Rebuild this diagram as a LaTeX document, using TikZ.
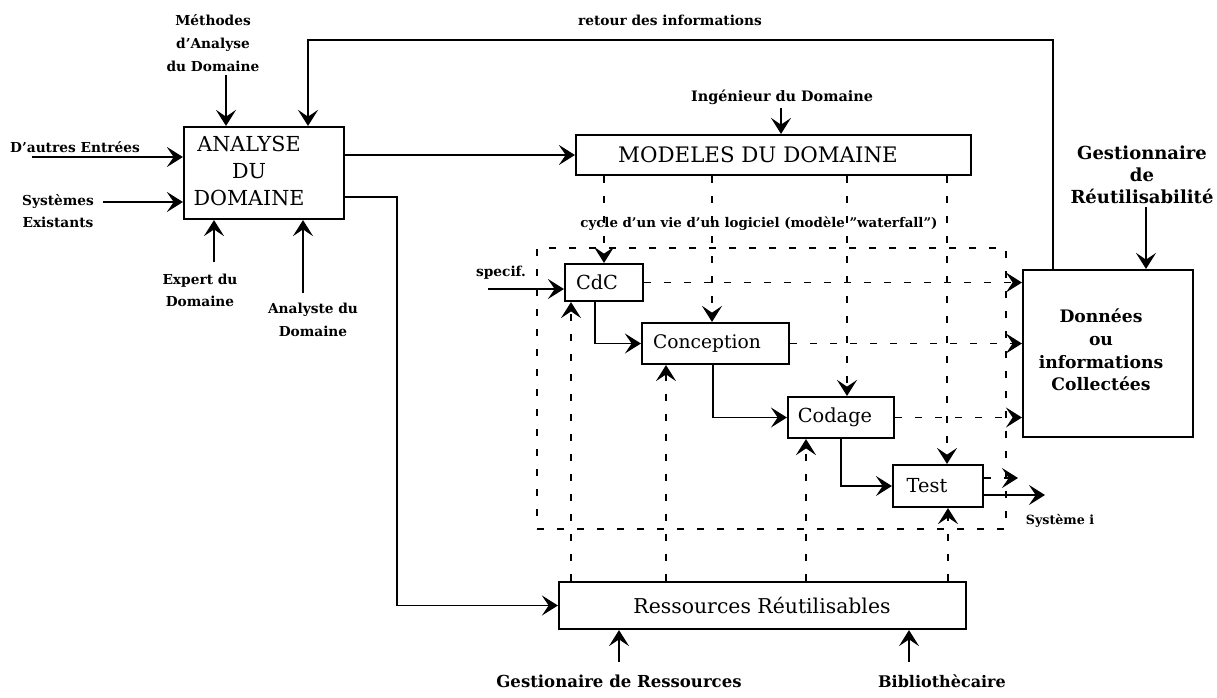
\documentclass[tikz,border=0pt]{standalone}
\usepackage{fontspec}
\setmainfont{DejaVu Serif}
\usetikzlibrary{arrows.meta}
\begin{document}
\begin{tikzpicture}[x=0.75pt,y=-0.75pt,
  box/.style={draw,line width=1.6pt,inner sep=0pt},
  btxt/.style={font=\fontsize{14.5}{20}\selectfont,inner sep=0pt},
  lab/.style={font=\bfseries\fontsize{10.3}{17}\selectfont,align=center,inner sep=0pt},
  arr/.style={line width=1.3pt,-{Stealth[length=12pt,width=15pt,inset=5pt]}},
  darr/.style={arr,line width=1.4pt,dash pattern=on 5pt off 10pt},
  dline/.style={line width=1.4pt,dash pattern=on 5pt off 10pt},
]
\useasboundingbox (0,0) rectangle (1217,697);
% boxes
\node[box,minimum width=120pt,minimum height=69pt] (ana) at (264,173) {};
\node[btxt,align=center,font=\fontsize{15.5}{20.6}\selectfont] (anat) at (249,171) {ANALYSE\\DU\\DOMAINE};
\node[box,minimum width=296.25pt,minimum height=30pt] (mod) at (773.5,155) {};
\node[btxt,font=\fontsize{16}{20}\selectfont] (modt) at (758,155) {MODELES DU DOMAINE};
\node[draw,dline,minimum width=351.75pt,minimum height=210.75pt,inner sep=0pt] (cyc) at (771.5,388.5) {};
\node[box,minimum width=58.5pt,minimum height=27.75pt] (cdc) at (604,282.5) {};
\node[btxt] (cdct) at (597,282.5) {CdC};
\node[box,minimum width=110.25pt,minimum height=30.75pt] (conc) at (715.5,343.5) {};
\node[btxt,font=\fontsize{14}{20}\selectfont] (conct) at (707,343.5) {Conception};
\node[box,minimum width=79.5pt,minimum height=30.75pt] (cod) at (841,417.5) {};
\node[btxt] (codt) at (835,417.5) {Codage};
\node[box,minimum width=67.5pt,minimum height=31.5pt] (test) at (938,486) {};
\node[btxt] (testt) at (927,486) {Test};
\node[box,minimum width=127.5pt,minimum height=125.25pt] (don) at (1108,353.5) {};
\node[lab,font=\bfseries\fontsize{12.9}{17}\selectfont] (dont) at (1101,350) {Données\\ou\\informations\\Collectées};
\node[box,minimum width=305.25pt,minimum height=35.25pt] (res) at (762.5,605.5) {};
\node[btxt,font=\fontsize{15.3}{20}\selectfont] (rest) at (762,605.5) {Ressources Réutilisables};
% labels
\node[lab] (meth) at (213,43) {Méthodes\\d'Analyse\\du Domaine};
\node[lab] (autres) at (75,147) {D'autres Entrées};
\node[lab] (sys) at (58,211) {Systèmes\\Existants};
\node[lab] (exp) at (200,290.5) {Expert du\\Domaine};
\node[lab] (anal) at (313,320) {Analyste du\\Domaine};
\node[lab] (ret) at (670,20) {retour des informations};
\node[lab,font=\bfseries\fontsize{10.8}{17}\selectfont] (ing) at (782,97) {Ingénieur du Domaine};
\node[lab,font=\bfseries\fontsize{13.5}{16.5}\selectfont] (gest) at (1142,175) {Gestionnaire\\de\\Réutilisabilité};
\node[lab,font=\bfseries\fontsize{10}{17}\selectfont] (cyct) at (759,224) {cycle d'un vie d'un logiciel (modèle \symbol{34}waterfall\symbol{34})};
\node[lab] (spec) at (501,273) {specif.};
\node[lab,font=\bfseries\fontsize{9.5}{17}\selectfont] (sysi) at (1060,521) {Système i};
\node[lab,font=\bfseries\fontsize{12.4}{15}\selectfont] (gres) at (619,681) {Gestionaire de Ressources};
\node[lab,font=\bfseries\fontsize{12}{15}\selectfont] (bib) at (942,681) {Bibliothècaire};
% coordinates
\coordinate (m1) at (226,75);
\coordinate (fbl) at (308,40);
\coordinate (fbr) at (1053,40);
\coordinate (ae) at (32,157);
\coordinate (se) at (103,202);
\coordinate (ex) at (214,262);
\coordinate (an) at (303,293);
\coordinate (ar) at (397,197);
\coordinate (ig) at (781,108);
\coordinate (gr) at (1146,207);
\coordinate (sp) at (488,289);
\coordinate (gs) at (619,662);
\coordinate (bb) at (909,662);
\coordinate (k1) at (595,0);
\coordinate (k2) at (713,0);
\coordinate (v1) at (712,0);
\coordinate (v2) at (847,0);
\coordinate (v3) at (947,0);
\coordinate (u1) at (571,0);
\coordinate (u2) at (666,0);
\coordinate (u3) at (806,0);
\coordinate (u4) at (948,0);
\coordinate (ti) at (1018,478);
\coordinate (si) at (1045,495);
% connectors
\draw[arr] (m1) -- (m1 |- ana.north);
\draw[arr] (fbr |- don.north) -- (fbr) -- (fbl) -- (fbl |- ana.north);
\draw[arr] (ae) -- (ae -| ana.west);
\draw[arr] (se) -- (se -| ana.west);
\draw[arr] (ex) -- (ex |- ana.south);
\draw[arr] (an) -- (an |- ana.south);
\draw[arr] (ana.east |- mod.west) -- (mod.west);
\draw[arr] (ar -| ana.east) -- (ar) |- (res.west);
\draw[arr] (ig) -- (ig |- mod.north);
\draw[arr] (gr) -- (gr |- don.north);
\draw[arr] (gs) -- (gs |- res.south);
\draw[arr] (bb) -- (bb |- res.south);
\draw[arr] (sp) -- (sp -| cdc.west);
\draw[darr] (mod.south -| cdc.north) -- (cdc.north);
\draw[darr] (mod.south -| v1) -- (v1 |- conc.north);
\draw[darr] (mod.south -| v2) -- (v2 |- cod.north);
\draw[darr] (mod.south -| v3) -- (v3 |- test.north);
\draw[darr] (res.north -| u1) -- (u1 |- cdc.south);
\draw[darr] (res.north -| u2) -- (u2 |- conc.south);
\draw[darr] (res.north -| u3) -- (u3 |- cod.south);
\draw[darr] (res.north -| u4) -- (u4 |- test.south);
\draw[darr] (cdc.east) -- (cdc.east -| don.west);
\draw[darr] (conc.east) -- (conc.east -| don.west);
\draw[darr] (cod.east) -- (cod.east -| don.west);
\draw[darr] (test.east |- ti) -- (ti);
\draw[arr] (test.east |- si) -- (si);
\draw[arr] (cdc.south -| k1) |- (conc.west);
\draw[arr] (conc.south -| k2) |- (cod.west);
\draw[arr] (cod.south) |- (test.west);
\end{tikzpicture}
\end{document}
